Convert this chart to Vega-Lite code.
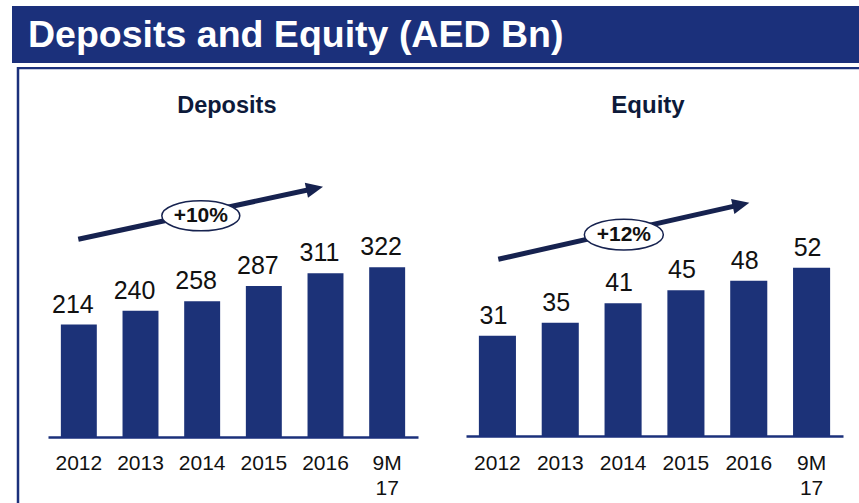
{
  "$schema": "https://vega.github.io/schema/vega-lite/v6.json",
  "padding": {"left": 12, "top": 6, "right": 0, "bottom": 0},
  "spacing": 4,
  "config": {
    "font": "Liberation Sans",
    "view": {"stroke": null},
    "axis": {"grid": false}
  },
  "datasets": {
    "bars": [
      {"panel": "Deposits", "period": "2012", "value": 214},
      {"panel": "Deposits", "period": "2013", "value": 240},
      {"panel": "Deposits", "period": "2014", "value": 258},
      {"panel": "Deposits", "period": "2015", "value": 287},
      {"panel": "Deposits", "period": "2016", "value": 311},
      {"panel": "Deposits", "period": "9M 17", "value": 322},
      {"panel": "Equity", "period": "2012", "value": 31},
      {"panel": "Equity", "period": "2013", "value": 35},
      {"panel": "Equity", "period": "2014", "value": 41},
      {"panel": "Equity", "period": "2015", "value": 45},
      {"panel": "Equity", "period": "2016", "value": 48},
      {"panel": "Equity", "period": "9M 17", "value": 52}
    ],
    "arrows": [
      {"panel": "Deposits", "slot": 0.491, "value": 374.9},
      {"panel": "Deposits", "slot": 4.325, "value": 470.8},
      {"panel": "Equity", "slot": 0.514, "value": 54.6},
      {"panel": "Equity", "slot": 4.377, "value": 71.5}
    ],
    "heads": [
      {"panel": "Deposits", "slot": 4.325, "value": 470.8},
      {"panel": "Equity", "slot": 4.377, "value": 71.5}
    ],
    "badges": [
      {"panel": "Deposits", "slot": 2.478, "value": 419.2, "text": "+10%"},
      {"panel": "Equity", "slot": 2.512, "value": 62.2, "text": "+12%"}
    ],
    "titles": [
      {"panel": "Deposits", "slot": 2.9, "value": 613, "text": "Deposits"},
      {"panel": "Equity", "slot": 2.897, "value": 99.8, "text": "Equity"}
    ]
  },
  "vconcat": [
    {
      "width": 847,
      "height": 57,
      "view": {"fill": "#1b307b", "stroke": null},
      "data": {"values": [{"title": "Deposits and Equity (AED Bn)"}]},
      "mark": {"type": "text", "align": "left", "baseline": "middle", "color": "#ffffff", "fontSize": 37.5, "fontWeight": "bold", "dx": 16, "dy": 1}, 
      "encoding": {
        "text": {"field": "title"},
        "x": {"datum": 0, "type": "quantitative", "scale": {"domain": [0, 1]}, "axis": null},
        "y": {"datum": 0.5, "type": "quantitative", "scale": {"domain": [0, 1]}, "axis": null}
      }
    },
    {
      "width": 847,
      "height": 436,
      "layer": [
        {
          "data": {"values": [{"box": 1}]},
          "mark": {"type": "rect", "fillOpacity": 0, "stroke": "#1b307b", "strokeWidth": 2.5, "clip": true},
          "encoding": {
            "x": {"datum": 0, "type": "quantitative", "scale": {"domain": [0, 1], "range": [6, 870]}, "axis": null},
            "x2": {"datum": 1},
            "y": {"datum": 0, "type": "quantitative", "scale": {"domain": [0, 1], "range": [1, 460]}, "axis": null},
            "y2": {"datum": 1}
          }
        },
        {
          "layer": [
            {
              "data": {"name": "bars"},
              "transform": [{"filter": "datum.panel == 'Deposits'"}],
              "encoding": {
                "x": {
                  "field": "period", "type": "nominal", "sort": null,
                  "scale": {"range": [36, 406], "paddingInner": 0.417, "paddingOuter": 0.2085},
                  "axis": {
                    "orient": "bottom", "offset": -66, "title": null, "labelAngle": 0,
                    "domainColor": "#1b307b", "domainWidth": 2.5, "ticks": false,
                    "labelFontSize": 21, "labelColor": "#111111", "labelPadding": 15,
                    "labelLineHeight": 25, "zindex": 1,
                    "labelExpr": "datum.value == '9M 17' ? ['9M', '17'] : datum.label"
                  }
                },
                "y": {"field": "value", "type": "quantitative", "scale": {"domain": [0, 700], "range": [371, 0]}, "axis": null}
              },
              "layer": [
                {"mark": {"type": "bar", "color": "#1c3278"}},
                {"mark": {"type": "text", "baseline": "alphabetic", "dy": -12, "dx": -6, "fontSize": 25, "color": "#111111"}, "encoding": {"text": {"field": "value"}}}
              ]
            },
            {
              "encoding": {
                "x": {"field": "slot", "type": "quantitative", "scale": {"domain": [0, 6], "range": [36, 406]}, "axis": null},
                "y": {"field": "value", "type": "quantitative", "scale": {"domain": [0, 700], "range": [371, 0]}, "axis": null}
              },
              "layer": [
                {
                  "data": {"name": "arrows"},
                  "transform": [{"filter": "datum.panel == 'Deposits'"}],
                  "mark": {"type": "line", "color": "#16224f", "strokeWidth": 5, "strokeCap": "butt"}
                },
                {
                  "data": {"name": "heads"},
                  "transform": [{"filter": "datum.panel == 'Deposits'"}],
                  "mark": {"type": "point", "shape": "M1,0L-1,-0.9L-1,0.9Z", "size": 289, "angle": -12.1, "filled": true, "color": "#16224f", "opacity": 1}
                },
                {
                  "data": {"name": "badges"},
                  "transform": [{"filter": "datum.panel == 'Deposits'"}],
                  "mark": {"type": "point", "shape": "M-1,0A1,0.385,0,1,1,1,0A1,0.385,0,1,1,-1,0Z", "size": 6084, "filled": true, "fill": "#ffffff", "stroke": "#16224f", "strokeWidth": 1.5, "opacity": 1}
                },
                {
                  "data": {"name": "badges"},
                  "transform": [{"filter": "datum.panel == 'Deposits'"}],
                  "mark": {"type": "text", "baseline": "middle", "fontSize": 21, "fontWeight": "bold", "color": "#111111"},
                  "encoding": {"text": {"field": "text"}}
                },
                {
                  "data": {"name": "titles"},
                  "transform": [{"filter": "datum.panel == 'Deposits'"}],
                  "mark": {"type": "text", "baseline": "alphabetic", "fontSize": 23.5, "fontWeight": "bold", "color": "#0d1a3a"},
                  "encoding": {"text": {"field": "text"}}
                }
              ]
            }
          ],
          "resolve": {"scale": {"x": "independent"}, "axis": {"x": "independent"}}
        },
        {
          "layer": [
            {
              "data": {"name": "bars"},
              "transform": [{"filter": "datum.panel == 'Equity'"}],
              "encoding": {
                "x": {
                  "field": "period", "type": "nominal", "sort": null,
                  "scale": {"range": [454, 831], "paddingInner": 0.41, "paddingOuter": 0.205},
                  "axis": {
                    "orient": "bottom", "offset": -67, "title": null, "labelAngle": 0,
                    "domainColor": "#1b307b", "domainWidth": 2.5, "ticks": false,
                    "labelFontSize": 21, "labelColor": "#111111", "labelPadding": 16,
                    "labelLineHeight": 25, "zindex": 1,
                    "labelExpr": "datum.value == '9M 17' ? ['9M', '17'] : datum.label"
                  }
                },
                "y": {"field": "value", "type": "quantitative", "scale": {"domain": [0, 114], "range": [369, 0]}, "axis": null}
              },
              "layer": [
                {"mark": {"type": "bar", "color": "#1c3278"}},
                {"mark": {"type": "text", "baseline": "alphabetic", "dy": -12, "dx": -4, "fontSize": 25, "color": "#111111"}, "encoding": {"text": {"field": "value"}}}
              ]
            },
            {
              "encoding": {
                "x": {"field": "slot", "type": "quantitative", "scale": {"domain": [0, 6], "range": [454, 831]}, "axis": null},
                "y": {"field": "value", "type": "quantitative", "scale": {"domain": [0, 114], "range": [369, 0]}, "axis": null}
              },
              "layer": [
                {
                  "data": {"name": "arrows"},
                  "transform": [{"filter": "datum.panel == 'Equity'"}],
                  "mark": {"type": "line", "color": "#16224f", "strokeWidth": 5, "strokeCap": "butt"}
                },
                {
                  "data": {"name": "heads"},
                  "transform": [{"filter": "datum.panel == 'Equity'"}],
                  "mark": {"type": "point", "shape": "M1,0L-1,-0.9L-1,0.9Z", "size": 289, "angle": -12.7, "filled": true, "color": "#16224f", "opacity": 1}
                },
                {
                  "data": {"name": "badges"},
                  "transform": [{"filter": "datum.panel == 'Equity'"}],
                  "mark": {"type": "point", "shape": "M-1,0A1,0.39,0,1,1,1,0A1,0.39,0,1,1,-1,0Z", "size": 6241, "filled": true, "fill": "#ffffff", "stroke": "#16224f", "strokeWidth": 1.5, "opacity": 1}
                },
                {
                  "data": {"name": "badges"},
                  "transform": [{"filter": "datum.panel == 'Equity'"}],
                  "mark": {"type": "text", "baseline": "middle", "fontSize": 21, "fontWeight": "bold", "color": "#111111"},
                  "encoding": {"text": {"field": "text"}}
                },
                {
                  "data": {"name": "titles"},
                  "transform": [{"filter": "datum.panel == 'Equity'"}],
                  "mark": {"type": "text", "baseline": "alphabetic", "fontSize": 24, "fontWeight": "bold", "color": "#0d1a3a"},
                  "encoding": {"text": {"field": "text"}}
                }
              ]
            }
          ],
          "resolve": {"scale": {"x": "independent"}, "axis": {"x": "independent"}}
        }
      ],
      "resolve": {"scale": {"x": "independent", "y": "independent"}, "axis": {"x": "independent", "y": "independent"}}
    }
  ]
}
